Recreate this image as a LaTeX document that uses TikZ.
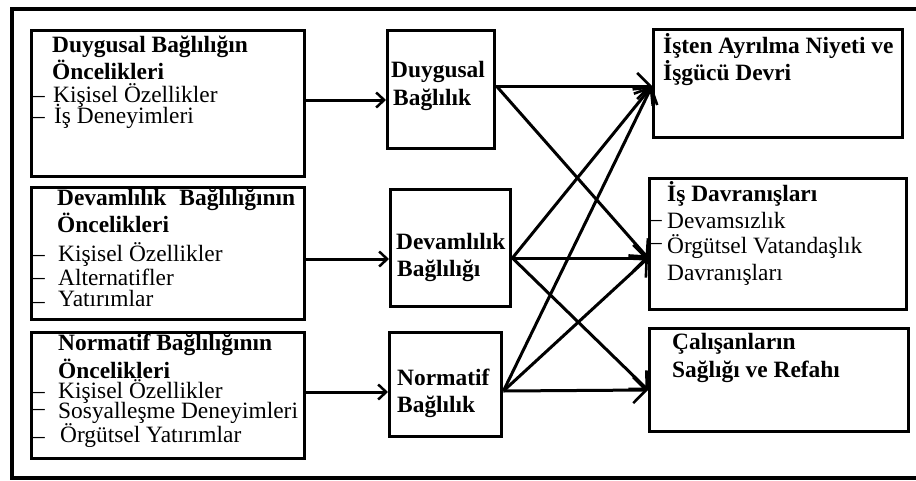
\documentclass[tikz,border=0pt]{standalone}
\usepackage{fontspec}
\setmainfont{Liberation Serif}
\usetikzlibrary{arrows.meta}
\begin{document}
\begin{tikzpicture}[x=1pt,y=-1pt,
  box/.style={draw, line width=3.4pt, anchor=north west, inner sep=0pt},
  txt/.style={anchor=base west, inner sep=0pt, font=\fontsize{23.4}{26}\selectfont},
  btxt/.style={txt, font=\fontsize{23.4}{26}\selectfont\bfseries},
  dashmark/.style={txt},
  feed/.style={line width=3pt, -{Straight Barb[length=8pt,width=15pt,line width=2.5pt]}},
  link/.style={line width=3pt, -{Straight Barb[length=13pt,width=26pt,line width=2.6pt]}}]
\useasboundingbox (0,0) rectangle (916,480);
% outer frame (open on the right)
\draw[line width=3.2pt] (920,9) -- (12,9) -- (12,478) -- (920,478);

% antecedent boxes
\node[box, minimum width=273pt, minimum height=146pt] (b1) at (30,29) {};
\node[box, minimum width=273pt, minimum height=132pt] (b2) at (30,186) {};
\node[box, minimum width=273pt, minimum height=126pt] (b3) at (30,331) {};

% commitment boxes
\node[box, minimum width=107pt, minimum height=118pt] (m1) at (386,29) {};
\node[box, minimum width=120pt, minimum height=117pt] (m2) at (389,188) {};
\node[box, minimum width=112pt, minimum height=104pt] (m3) at (388,331) {};

% outcome boxes
\node[box, minimum width=249pt, minimum height=108pt] (r1) at (652,28) {};
\node[box, minimum width=257pt, minimum height=131pt] (r2) at (648,177) {};
\node[box, minimum width=259pt, minimum height=103pt] (r3) at (648,327) {};

% texts: first antecedent box
\node[btxt] (t11) at (52,52) {Duygusal Bağlılığın};
\node[btxt] (t12) at (52,79) {Öncelikleri};
\node[dashmark] (d11) at (33,102) {–};
\node[txt] (t13) at (53,102) {Kişisel Özellikler};
\node[dashmark] (d12) at (33,123) {–};
\node[txt] (t14) at (54,123) {İş Deneyimleri};

% texts: second antecedent box
\node[btxt] (t21) at (57,205) {\makebox[238pt][l]{Devamlılık\hfill Bağlılığının}};
\node[btxt] (t22) at (57,232) {Öncelikleri};
\node[dashmark] (d21) at (33,261) {–};
\node[txt] (t23) at (58,261) {Kişisel Özellikler};
\node[dashmark] (d22) at (33,284) {–};
\node[txt] (t24) at (58,285) {Alternatifler};
\node[dashmark] (d23) at (33,308) {–};
\node[txt] (t25) at (58,306) {Yatırımlar};

% texts: third antecedent box
\node[btxt] (t31) at (58,350) {Normatif Bağlılığının};
\node[btxt] (t32) at (58,378) {Öncelikleri};
\node[dashmark] (d31) at (33,398) {–};
\node[txt] (t33) at (58,398) {Kişisel Özellikler};
\node[dashmark] (d32) at (33,415) {–};
\node[txt] (t34) at (58,418) {Sosyalleşme Deneyimleri};
\node[dashmark] (d33) at (33,443) {–};
\node[txt] (t35) at (60,442) {Örgütsel Yatırımlar};

% texts: commitment boxes
\node[btxt] (m1a) at (391,77) {Duygusal};
\node[btxt] (m1b) at (393,105) {Bağlılık};
\node[btxt] (m2a) at (396,249) {Devamlılık};
\node[btxt] (m2b) at (397,276) {Bağlılığı};
\node[btxt] (m3a) at (397,385) {Normatif};
\node[btxt] (m3b) at (397,412) {Bağlılık};

% texts: outcome boxes
\node[btxt] (r1a) at (663,53) {İşten Ayrılma Niyeti ve};
\node[btxt] (r1b) at (663,80) {İşgücü Devri};
\node[btxt] (r2a) at (667,201) {İş Davranışları};
\node[dashmark] (d41) at (650,226) {–};
\node[txt] (r2b) at (667,228) {Devamsızlık};
\node[dashmark] (d42) at (650,249) {–};
\node[txt] (r2c) at (667,253) {Örgütsel Vatandaşlık};
\node[txt] (r2d) at (667,280) {Davranışları};
\node[btxt] (r3a) at (672,349) {Çalışanların};
\node[btxt] (r3b) at (672,377) {Sağlığı ve Refahı};

% antecedents to commitment
\draw[feed] (b1.east |- 0,100) -- (m1.west |- 0,100);
\draw[feed] (b2.east |- 0,259) -- (m2.west |- 0,259);
\draw[feed] (b3.east |- 0,392) -- (m3.west |- 0,392);

% commitment to outcomes
\coordinate (s1) at (m1.east |- 0,86);
\coordinate (s2) at (m2.east |- 0,258);
\coordinate (s3) at (m3.east |- 0,391);
\coordinate (e1) at (r1.west |- 0,86);
\coordinate (e2) at (r2.west |- 0,258);
\coordinate (e3) at (r3.west |- 0,390);
\draw[link] (s1) -- (e1);
\draw[link] (s1) -- (e2);
\draw[link] (s2) -- (e1);
\draw[link] (s2) -- (e2);
\draw[link] (s2) -- (e3);
\draw[link] (s3) -- (e1);
\draw[link] (s3) -- (e2);
\draw[link] (s3) -- (e3);
\end{tikzpicture}
\end{document}
